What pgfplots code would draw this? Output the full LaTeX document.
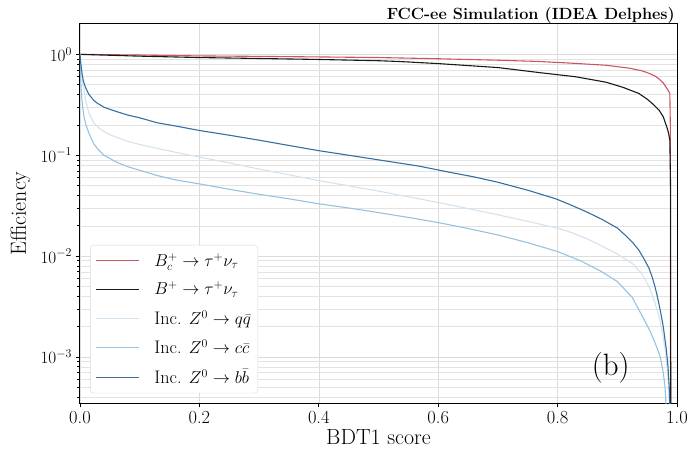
\documentclass[border=0pt]{standalone}
\usepackage{pgfplots}
\pgfplotsset{compat=1.18}

\definecolor{bcred}{RGB}{205,85,95}
\definecolor{bblk}{RGB}{25,25,25}
\definecolor{qqcol}{RGB}{212,226,238}
\definecolor{cccol}{RGB}{150,195,222}
\definecolor{bbcol}{RGB}{55,110,160}

\newcommand{\BcTau}{\ensuremath{B_c^+\to\tau^+\nu_\tau}}
\newcommand{\BTau}{\ensuremath{B^+\to\tau^+\nu_\tau}}
\newcommand{\Zqq}{Inc. \ensuremath{Z^0\to q\bar{q}}}
\newcommand{\Zcc}{Inc. \ensuremath{Z^0\to c\bar{c}}}
\newcommand{\Zbb}{Inc. \ensuremath{Z^0\to b\bar{b}}}

\pgfplotsset{
    mylegend/.style={
        legend image code/.code={
            \draw[line width=1.1bp,##1] (0bp,0bp) -- (43bp,0bp);
            \path (56bp,0bp);
        }
    }
}

\begin{document}
\begin{tikzpicture}
\begin{axis}[
    scale only axis,
    width=597bp, height=379bp,
    xmin=0, xmax=1.0,
    ymode=log, ymin=3.5e-4, ymax=2,
    xtick={0,0.2,0.4,0.6,0.8,1.0},
    xticklabels={0.0,0.2,0.4,0.6,0.8,1.0},
    xtick pos=bottom, ytick pos=left,
    tick align=outside,
    major tick length=4.5bp, minor tick length=2.5bp,
    tick style={black, line width=0.7bp},
    axis line style={black, line width=1bp},
    grid=both,
    major grid style={gray!28, line width=0.6bp},
    minor grid style={gray!22, line width=0.5bp},
    tick label style={font=\fontsize{18.5}{21}\selectfont},
    label style={font=\fontsize{22}{25}\selectfont},
    xlabel={BDT1 score},
    ylabel={Efficiency},
    xlabel style={at={(axis description cs:0.5,-0.09)}, anchor=center},
    ylabel style={at={(axis description cs:-0.1,0.5)}, anchor=center},
    legend style={at={(axis description cs:0.017,0.026)}, anchor=south west,
        draw=gray!30, rounded corners=3bp, fill=white,
        font=\fontsize{18.2}{21}\selectfont, row sep=10bp, inner xsep=5bp, inner ysep=6bp},
    legend cell align=left,
    mylegend,
    every axis plot/.append style={line width=1.1bp},
]
\addplot[bcred] coordinates {
    (0,1.0) (0.1,0.985) (0.2,0.965) (0.3,0.955) (0.4,0.943) (0.5,0.93)
    (0.6,0.905) (0.7,0.875) (0.769,0.85) (0.82,0.82) (0.881,0.78) (0.92,0.73)
    (0.94,0.69) (0.953,0.65) (0.963,0.61) (0.97,0.57) (0.977,0.52) (0.982,0.47)
    (0.986,0.43) (0.988,0.41) (0.9888,0.2) (0.9895,0.00001)
};
\addlegendentry{\BcTau}
\addplot[bblk] coordinates {
    (0,1.0) (0.1,0.96) (0.2,0.93) (0.3,0.91) (0.4,0.89) (0.5,0.865)
    (0.534,0.85) (0.6,0.81) (0.7,0.74) (0.769,0.66) (0.83,0.6) (0.881,0.53)
    (0.91,0.47) (0.936,0.41) (0.95,0.36) (0.96,0.32) (0.97,0.28) (0.977,0.24)
    (0.983,0.19) (0.986,0.165) (0.988,0.14) (0.9892,0.05) (0.9897,0.00001)
};
\addlegendentry{\BTau}
\addplot[qqcol] coordinates {
    (0,1.0) (0.002,0.7) (0.004,0.55) (0.0067,0.44) (0.01,0.34) (0.015,0.26)
    (0.023,0.21) (0.03,0.19) (0.04,0.172) (0.05,0.16) (0.062,0.15) (0.08,0.137)
    (0.1,0.128) (0.129,0.117) (0.16,0.107) (0.2,0.096) (0.25,0.084) (0.3,0.073)
    (0.35,0.064) (0.4,0.056) (0.45,0.0498) (0.5,0.0441) (0.55,0.0388) (0.6,0.034)
    (0.65,0.0296) (0.7,0.0257) (0.75,0.0221) (0.8,0.0189) (0.82,0.0174)
    (0.85,0.0148) (0.874,0.0126) (0.9,0.0105) (0.925,0.0085) (0.94,0.0068)
    (0.953,0.005) (0.962,0.0036) (0.97,0.0025) (0.976,0.0017) (0.981,0.0011)
    (0.985,0.0006) (0.988,0.0003) (0.9895,0.0001)
};
\addlegendentry{\Zqq}
\addplot[cccol] coordinates {
    (0,1.0) (0.0005,0.75) (0.001,0.6) (0.002,0.45) (0.003,0.37) (0.0045,0.3)
    (0.0067,0.24) (0.01,0.2) (0.015,0.165) (0.023,0.13) (0.03,0.115) (0.04,0.10)
    (0.05,0.093) (0.062,0.085) (0.08,0.077) (0.1,0.071) (0.129,0.063) (0.16,0.057)
    (0.2,0.052) (0.25,0.046) (0.3,0.041) (0.35,0.037) (0.4,0.033) (0.45,0.030)
    (0.5,0.027) (0.55,0.0242) (0.6,0.0215) (0.65,0.0188) (0.7,0.0162)
    (0.75,0.0136) (0.8,0.0111) (0.84,0.0089) (0.874,0.0070) (0.9,0.0056)
    (0.925,0.0039) (0.941,0.0026) (0.955,0.0018) (0.965,0.0013) (0.972,0.001)
    (0.977,0.0007) (0.98,0.0005) (0.982,0.0003) (0.983,0.0001)
};
\addlegendentry{\Zcc}
\addplot[bbcol] coordinates {
    (0,1.0) (0.001,0.85) (0.002,0.75) (0.0035,0.64) (0.005,0.57) (0.0067,0.52)
    (0.01,0.46) (0.015,0.40) (0.023,0.35) (0.03,0.325) (0.04,0.30) (0.05,0.285)
    (0.062,0.27) (0.08,0.25) (0.1,0.235) (0.129,0.21) (0.16,0.195) (0.2,0.176)
    (0.25,0.158) (0.3,0.141) (0.35,0.125) (0.4,0.111) (0.45,0.1) (0.5,0.09)
    (0.568,0.078) (0.618,0.068) (0.66,0.061) (0.7,0.054) (0.75,0.045) (0.797,0.037)
    (0.825,0.0316) (0.85,0.0272) (0.874,0.0232) (0.9,0.019) (0.915,0.0158)
    (0.925,0.0138) (0.936,0.0115) (0.946,0.0091) (0.953,0.0076) (0.958,0.0063)
    (0.963,0.005) (0.967,0.004) (0.972,0.0029) (0.977,0.002) (0.982,0.0012)
    (0.985,0.0008) (0.987,0.0005) (0.9885,0.00025) (0.9895,0.0001)
};
\addlegendentry{\Zbb}
\node[font=\fontsize{31}{34}\selectfont] at (axis cs:0.889,0.00079) {(b)};
\end{axis}
\node[font=\fontsize{16.3}{19}\selectfont\bfseries, anchor=base east, inner sep=0pt]
    at (595bp,383bp) {FCC-ee Simulation (IDEA Delphes)};
\pgfresetboundingbox
\path (-80bp,-48bp) rectangle (608bp,403bp);
\end{tikzpicture}
\end{document}
